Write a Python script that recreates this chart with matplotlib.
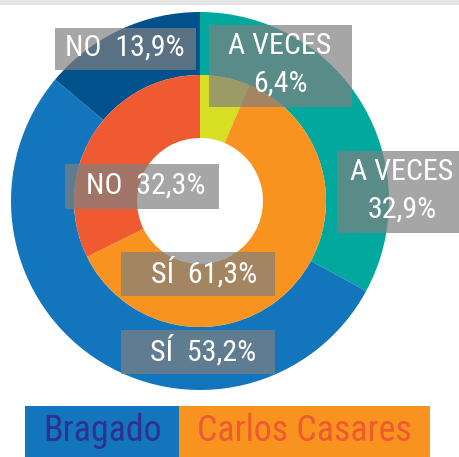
import matplotlib
matplotlib.use("Agg")
import matplotlib.pyplot as plt
from matplotlib import font_manager
from matplotlib.patches import Rectangle

# data
categories = ["A VECES", "SÍ", "NO"]
bragado = [32.9, 53.2, 13.9]
casares = [6.4, 61.3, 32.3]
series_names = ["Bragado", "Carlos Casares"]

outer_colors = ["#00A89D", "#1375BC", "#01518D"]
inner_colors = ["#D6DF23", "#F7931E", "#F05A31"]

# pick a condensed font if there is one
names = set(f.name for f in font_manager.fontManager.ttflist)
font = "Roboto"
scale = 1.0
for cand in ["Roboto Condensed", "Liberation Sans Narrow"]:
    if cand in names:
        font = cand
        scale = 1.2
        break
plt.rcParams["font.family"] = [font, "DejaVu Sans"]

W, H = 459, 457
fig = plt.figure(figsize=(W / 100, H / 100), dpi=100)
ax = fig.add_axes([0, 0, 1, 1])
ax.axis("off")

def Y(y):
    # pixel row -> data y
    return H - y

# thin grey bar on top
ax.add_patch(Rectangle((0, Y(5)), W, 5, color="#E6E6E6", lw=0))

cx, cy = 200, Y(201)
ax.pie(bragado, radius=189, center=(cx, cy), colors=outer_colors,
       startangle=90, counterclock=False,
       wedgeprops=dict(width=63, edgecolor="none", linewidth=0))
ax.pie(casares, radius=126, center=(cx, cy), colors=inner_colors,
       startangle=90, counterclock=False,
       wedgeprops=dict(width=63, edgecolor="none", linewidth=0))
ax.set_xlim(0, W)
ax.set_ylim(0, H)
ax.set_aspect("auto")

def pct(v):
    return ("%.1f" % v).replace(".", ",") + "%"

# label boxes: (x0, y0, x1, y1) in px, text, text centre
labels = [
    ((55, 28, 196, 70), categories[2] + "  " + pct(bragado[2]), (125, 48)),
    ((209, 25, 352, 107), categories[0] + "\n" + pct(casares[0]), (280, 65)),
    ((337, 151, 459, 233), categories[0] + "\n" + pct(bragado[0]), (402, 191)),
    ((65, 164, 219, 209), categories[2] + "  " + pct(casares[2]), (146, 186)),
    ((121, 252, 275, 296), categories[1] + "  " + pct(casares[1]), (204, 273)),
    ((121, 330, 275, 374), categories[1] + "  " + pct(bragado[1]), (203, 351)),
]
for (x0, y0, x1, y1), txt, (tx, ty) in labels:
    ax.add_patch(Rectangle((x0, Y(y1)), x1 - x0, y1 - y0,
                           facecolor="#808080", alpha=0.7, lw=0, zorder=5))
    ax.text(tx, Y(ty), txt, ha="center", va="center", color="white",
            fontsize=18 * scale, linespacing=1.45, zorder=6)

# legend boxes
ax.add_patch(Rectangle((25, 0), 154, 51, color=outer_colors[1], lw=0))
ax.add_patch(Rectangle((179, 0), 251, 51, color=inner_colors[1], lw=0))
ax.text(102, Y(431), series_names[0], ha="center", va="center",
        color="#2E3192", fontsize=21.5 * scale)
ax.text(304, Y(431), series_names[1], ha="center", va="center",
        color="#F05A31", fontsize=21.5 * scale)

fig.savefig("out.png", dpi=100)
